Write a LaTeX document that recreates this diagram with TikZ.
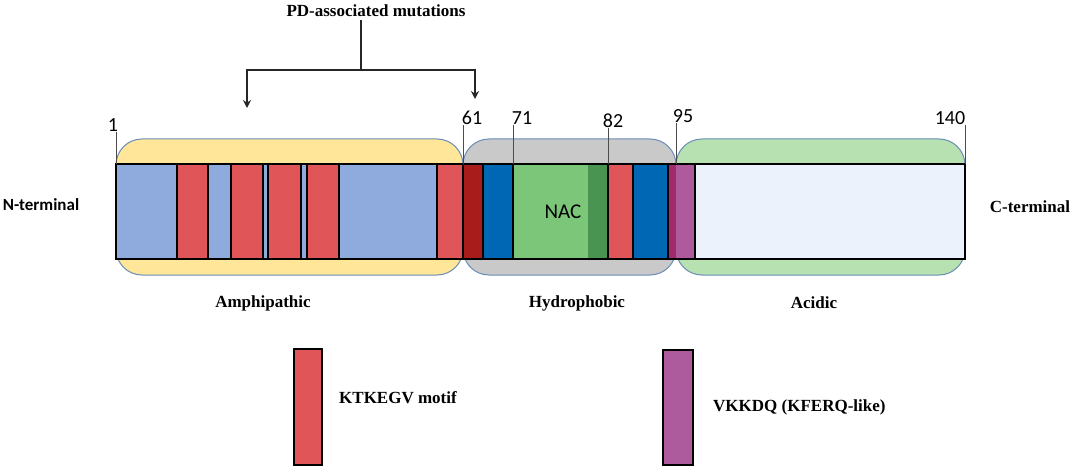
\documentclass[tikz,border=0pt]{standalone}
\usepackage{fontspec}
\setmainfont{Liberation Serif}
\newfontfamily\calib{Carlito}
\usepackage{tikz}
\usetikzlibrary{arrows}
\usetikzlibrary{arrows.meta}
\usetikzlibrary{calc}
\usetikzlibrary{positioning}
\definecolor{ltblue}{HTML}{8FAADC}
\definecolor{motif}{HTML}{E05658}
\definecolor{dkred}{HTML}{A81C1C}
\definecolor{dkblue}{HTML}{0067B4}
\definecolor{nac}{HTML}{7CC67A}
\definecolor{nacdk}{HTML}{4A9452}
\definecolor{kferq}{HTML}{AD5B9C}
\definecolor{kferqdk}{HTML}{A02B68}
\definecolor{ctail}{HTML}{EBF2FB}
\definecolor{amph}{HTML}{FFE699}
\definecolor{hydro}{HTML}{C9C9C9}
\definecolor{acid}{HTML}{B7E1B0}
\definecolor{rim}{HTML}{6A8DB8}
\tikzstyle{dom}=[draw=rim, line width=1pt, rounded corners=26pt]
\tikzstyle{seg}=[draw=black, line width=2pt]
\tikzstyle{tick}=[draw=black!70, line width=1pt]
\tikzstyle{num}=[font=\calib\fontsize{20}{22}\selectfont, inner sep=0pt]
\tikzstyle{lab}=[font=\bfseries\fontsize{17}{19}\selectfont, inner sep=0pt]
\tikzstyle{tran}=[draw=black!85, -{Stealth[length=8pt,width=8pt]}, line width=1.2pt]

\begin{document}
\begin{tikzpicture}[x=1pt, y=-1pt]
\useasboundingbox (0,0) rectangle (1072,468);

% domains
\draw[dom, fill=amph] (116,139) rectangle (463,275);
\draw[dom, fill=hydro] (463,139) rectangle (676,275);
\draw[dom, fill=acid] (676,139) rectangle (965,275);

% sequence bar
\foreach \a/\b/\c in {116/177/ltblue, 177/208/motif, 208/231/ltblue,
  231/263/motif, 263/268/ltblue, 268/301/motif, 301/307/ltblue,
  307/339/motif, 339/437/ltblue, 437/463/motif, 463/483/dkred,
  483/513/dkblue, 608/633/motif, 633/668/dkblue}
  \draw[seg, fill=\c] (\a,164) rectangle (\b,259);
\fill[nac] (513,164) rectangle (588,259);
\fill[nacdk] (588,164) rectangle (608,259);
\draw[seg] (513,164) rectangle (608,259);
\node[font=\calib\fontsize{21}{23}\selectfont] (nac) at (563,212) {NAC};
\fill[kferqdk] (668,164) rectangle (676,259);
\fill[kferq] (676,164) rectangle (695,259);
\draw[seg] (668,164) rectangle (695,259);
\draw[seg, fill=ctail] (695,164) rectangle (965,259);
\draw[line width=2.5pt] (116,164) rectangle (965,259);

% residue numbers
\foreach \n/\x/\tx/\ty in {1/116/113/125, 61/463/472/118, 71/513/522/118,
  82/608/613/121, 95/676/683/116, 140/965/950/118} {
  \node[num] (r\n) at (\tx,\ty) {\n};
  \coordinate (t\n) at (\x,164);
  \draw[tick] (t\n |- r\n.south) -- (t\n);
}

\node[lab] (amphi) at (263,303) {Amphipathic};
\node[lab] (hydrop) at (577,303) {Hydrophobic};
\node[lab] (acidic) at (814,303) {Acidic};
\node[font=\calib\bfseries\fontsize{17}{19}\selectfont, inner sep=0pt] (nterm) at (41,205) {N-terminal};
\node[lab] (cterm) at (1030,207) {C-terminal};

% mutations
\node[lab] (pd) at (376,11) {PD-associated mutations};
\coordinate (fork) at (361,70);
\coordinate (mutL) at (247,108);
\coordinate (mutR) at (475,99);
\draw[draw=black!85, line width=1.2pt] ($(fork |- pd.south)+(0,3)$) -- (fork);
\draw[tran] (fork) -| (mutL);
\draw[tran] (fork) -| (mutR);

% legend
\node[seg, fill=motif, minimum width=28pt, minimum height=116pt] (keymotif) at (308,407) {};
\node[lab, right=16pt of keymotif, yshift=9pt] (txtmotif) {KTKEGV motif};
\node[seg, fill=kferq, minimum width=30pt, minimum height=115pt] (keykferq) at (678,407.5) {};
\node[lab, right=19pt of keykferq] (txtkferq) {VKKDQ (KFERQ-like)};
\end{tikzpicture}
\end{document}
